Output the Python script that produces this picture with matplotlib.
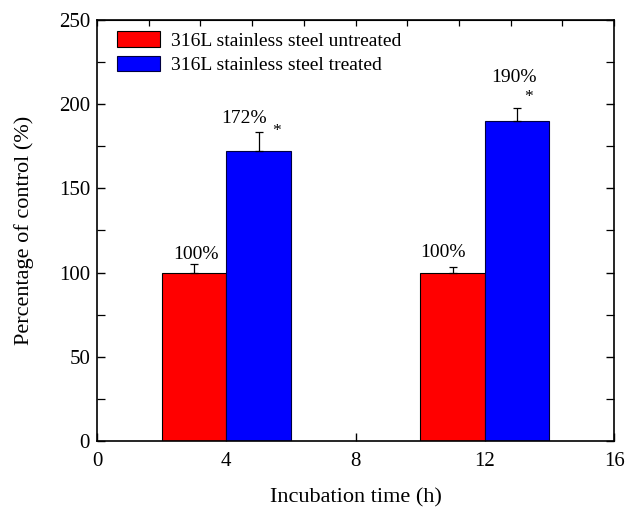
import matplotlib
matplotlib.use("Agg")
import matplotlib.pyplot as plt
from matplotlib.ticker import MultipleLocator

times = [4, 12]
untreated = [100, 100]
treated = [172, 190]
err_untreated = [5, 3.5]
err_treated = [11.5, 7.5]
labels_untreated = ["100%", "100%"]
labels_treated = ["172%", "190%"]
series_names = ["316L stainless steel untreated", "316L stainless steel treated"]

plt.rcParams['font.family'] = ['Liberation Serif', 'DejaVu Serif']

fig = plt.figure(figsize=(6.26, 5.07), dpi=100)
ax = fig.add_axes([0.155, 0.130, 0.826, 0.831])

w = 2
xr = [t - w / 2 for t in times]
xb = [t + w / 2 for t in times]
ekw = dict(ecolor='black', elinewidth=0.9, capsize=3, capthick=0.9)
ax.bar(xr, untreated, width=w, color='#ff0000', edgecolor='black', linewidth=0.8,
       yerr=[[0, 0], err_untreated], error_kw=ekw, label=series_names[0], zorder=2)
ax.bar(xb, treated, width=w, color='#0000ff', edgecolor='#000040', linewidth=0.8,
       yerr=[[0, 0], err_treated], error_kw=ekw, label=series_names[1], zorder=2)

# annotation offsets (position tweaks per label)
dx_u = [0.05, -0.3]
dy_u = [5.5, 8.3]
dx_t = [-0.46, -0.1]
dy_t = [7.7, 18.5]
star_dx = [0.55, 0.35]
star_dy = [0.3, 6.5]
for x, v, e, s, ddx, ddy in zip(xr, untreated, err_untreated, labels_untreated, dx_u, dy_u):
    ax.text(x + ddx, v + e + ddy, s, ha='center', va='center', fontsize=14)
for x, v, e, s, ddx, ddy, sdx, sdy in zip(xb, treated, err_treated, labels_treated, dx_t, dy_t, star_dx, star_dy):
    ax.text(x + ddx, v + e + ddy, s, ha='center', va='center', fontsize=14)
    ax.text(x + sdx, v + e + sdy, "*", ha='center', va='center', fontsize=12.5)

ax.set_xlim(0, 16)
ax.set_ylim(0, 250)
ax.xaxis.set_major_locator(MultipleLocator(4))
ax.yaxis.set_major_locator(MultipleLocator(50))
ax.yaxis.set_minor_locator(MultipleLocator(25))
ax.tick_params(axis='both', which='both', direction='in', labelsize=15)
ax.tick_params(axis='both', which='major', length=6, width=1)
ax.tick_params(axis='both', which='minor', length=6, width=0.9)
ax.tick_params(axis='y', which='both', right=True, pad=5)
ax.tick_params(axis='x', which='major', pad=7.5)

secx = ax.secondary_xaxis('top')
secx.xaxis.set_major_locator(MultipleLocator(1.6))
secx.tick_params(direction='in', length=4, width=0.9, labeltop=False)

for sp in ax.spines.values():
    sp.set_linewidth(1.2)

ax.set_xlabel("Incubation time (h)", fontsize=16, labelpad=13)
ax.set_ylabel("Percentage of control (%)", fontsize=16, labelpad=18)

leg = ax.legend(loc='upper left', bbox_to_anchor=(20 / 517, 1 - 11.5 / 421), frameon=False,
                fontsize=14, handlelength=2.2, handleheight=0.85, borderaxespad=0,
                borderpad=0, labelspacing=0.3, handletextpad=0.6)

fig.savefig("out.png", dpi=100)
